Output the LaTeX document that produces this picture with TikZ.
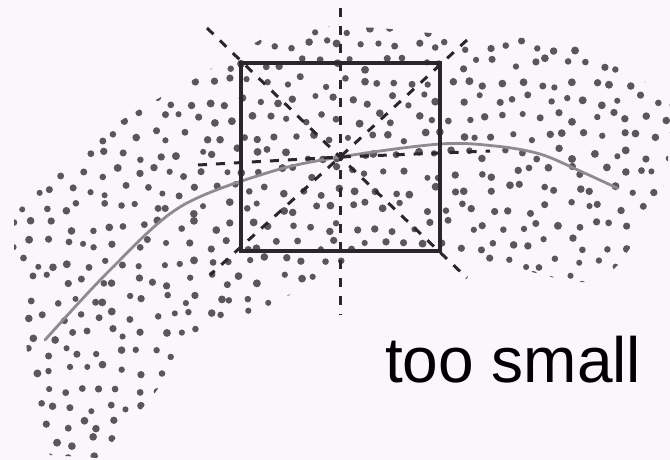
\documentclass[tikz,border=0pt]{standalone}
\usepackage{fontspec}
\setmainfont{Liberation Sans}
\definecolor{bgc}{RGB}{251,246,251}
\definecolor{dotc}{RGB}{88,88,88}
\definecolor{curvec}{RGB}{140,140,140}
\definecolor{linec}{RGB}{40,40,40}
\begin{document}
\begin{tikzpicture}[x=1pt,y=-1pt,
  dashline/.style={draw=linec,line width=3pt,dash pattern=on 9pt off 9pt},
  framebox/.style={draw=linec,line width=3.4pt,minimum width=199pt,minimum height=188pt,inner sep=0pt},
  bandcurve/.style={draw=curvec,line width=2.8pt,line cap=round},
  dotstyle/.style={fill=dotc}]
\fill[bgc] (0,0) rectangle (670,460);
\useasboundingbox (0,0) rectangle (670,460);
\begin{scope}
\clip (50,455) -- (38,420) -- (30,385) -- (25,330) -- (18,290) -- (14,250) -- (14,215) -- (35,190) -- (60,170) -- (100,133) -- (150,103) -- (200,76) -- (225,60) -- (260,40) -- (330,26) -- (380,28) -- (430,33) -- (470,36) -- (510,38) -- (560,38) -- (600,53) -- (630,73) -- (655,88) -- (676,112) -- (668,150) -- (668,180) -- (652,202) -- (643,230) -- (618,265) -- (600,282) -- (570,282) -- (540,274) -- (500,264) -- (470,257) -- (445,250) -- (420,254) -- (360,257) -- (345,262) -- (320,282) -- (278,300) -- (252,318) -- (202,340) -- (177,362) -- (152,397) -- (120,434) -- (97,458) -- cycle;
\pgfmathsetseed{12}
\foreach \j in {0,...,25} {
  \foreach \i in {0,...,38} {
    \pgfmathsetmacro\px{\i*18+mod(\j,2)*9+6*rand}
    \pgfmathsetmacro\py{\j*18+10+6*rand}
    \pgfmathsetmacro\pr{3.0+1.0*rnd}
    \fill[dotstyle] (\px,\py) circle[radius=\pr pt];
  }
}
\end{scope}
\draw[bandcurve] plot[smooth,tension=0.55] coordinates {(45,340) (110,270) (180,207) (270,172) (340,157) (440,144) (495,146) (540,154) (580,171) (617,188)};
\coordinate (c) at (340,157);
\coordinate (vt) at (340,8);
\coordinate (vb) at (340,315);
\coordinate (hl) at (198,165);
\coordinate (hr) at (490,151);
\coordinate (d1a) at (207,28);
\coordinate (d1b) at (467,278);
\coordinate (d2a) at (467,40);
\coordinate (d2b) at (210,275);
\draw[dashline] (vt) -- (c) -- (vb);
\draw[dashline] (hl) -- (c) -- (hr);
\draw[dashline] (d1a) -- (c) -- (d1b);
\draw[dashline] (d2a) -- (c) -- (d2b);
\node[framebox] (box) at (340.5,157) {};
\node[anchor=base west,font=\fontsize{64}{64}\selectfont,inner sep=0pt] (lbl) at (385,382) {too small};
\end{tikzpicture}
\end{document}
